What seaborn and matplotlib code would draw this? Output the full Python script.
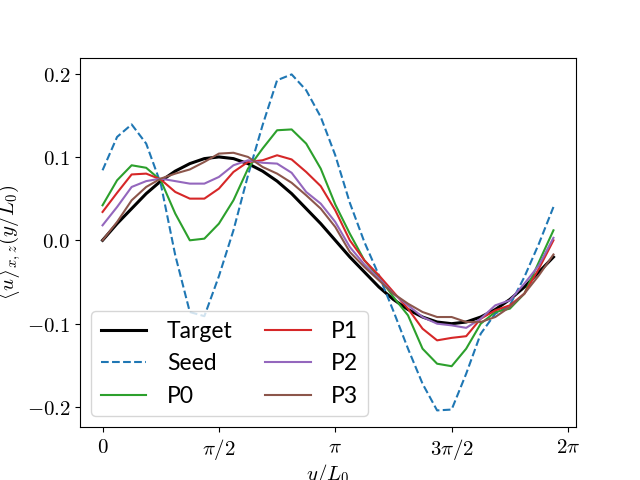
import numpy as np
import pandas as pd
import matplotlib
matplotlib.use('Agg')
import matplotlib.pyplot as plt
import seaborn as sns

plt.rcParams['mathtext.fontset'] = 'cm'
plt.rcParams['font.family'] = ['Lato', 'DejaVu Sans']

# sample points in y/L0 (32 grid cells over one period)
y_grid = np.linspace(0, 2 * np.pi, 32, endpoint=False)

target = [0.000, 0.020, 0.038, 0.056, 0.071, 0.083, 0.092, 0.098, 0.100, 0.098, 0.092, 0.083,
          0.071, 0.056, 0.038, 0.020, 0.000, -0.020, -0.038, -0.056, -0.071, -0.083, -0.092,
          -0.098, -0.100, -0.098, -0.092, -0.083, -0.071, -0.056, -0.038, -0.020]
seed = [0.084, 0.124, 0.139, 0.116, 0.068, -0.018, -0.086, -0.091, -0.043, 0.012, 0.078, 0.138,
        0.192, 0.199, 0.180, 0.148, 0.102, 0.045, -0.002, -0.042, -0.085, -0.130, -0.172,
        -0.204, -0.203, -0.160, -0.112, -0.088, -0.078, -0.044, -0.004, 0.040]
p0 = [0.042, 0.072, 0.090, 0.087, 0.072, 0.032, 0.000, 0.002, 0.020, 0.048, 0.086, 0.110,
      0.132, 0.133, 0.116, 0.086, 0.043, 0.008, -0.024, -0.044, -0.068, -0.090, -0.130,
      -0.148, -0.151, -0.130, -0.100, -0.086, -0.082, -0.064, -0.026, 0.012]
p1 = [0.034, 0.057, 0.079, 0.080, 0.073, 0.058, 0.050, 0.050, 0.062, 0.082, 0.094, 0.096,
      0.102, 0.097, 0.082, 0.065, 0.036, 0.000, -0.024, -0.042, -0.062, -0.082, -0.106,
      -0.120, -0.117, -0.115, -0.094, -0.084, -0.078, -0.064, -0.034, 0.000]
p2 = [0.018, 0.040, 0.064, 0.071, 0.074, 0.071, 0.068, 0.068, 0.076, 0.090, 0.096, 0.093,
      0.092, 0.081, 0.058, 0.044, 0.022, -0.008, -0.029, -0.046, -0.064, -0.078, -0.092,
      -0.100, -0.102, -0.105, -0.094, -0.078, -0.072, -0.052, -0.030, 0.003]
p3 = [0.000, 0.022, 0.048, 0.064, 0.074, 0.080, 0.085, 0.094, 0.104, 0.105, 0.100, 0.088,
      0.080, 0.069, 0.054, 0.038, 0.016, -0.014, -0.032, -0.048, -0.064, -0.076, -0.086,
      -0.092, -0.092, -0.098, -0.098, -0.092, -0.080, -0.064, -0.042, -0.017]

xtick_vals = [0, np.pi / 2, np.pi, 3 * np.pi / 2, 2 * np.pi]
xtick_labels = [r'$0$', r'$\pi/2$', r'$\pi$', r'$3\pi/2$', r'$2\pi$']
ytick_vals = [-0.2, -0.1, 0.0, 0.1, 0.2]

fig, ax = plt.subplots(figsize=(6.4, 4.8), dpi=100)

sns.lineplot(x=y_grid, y=target, ax=ax, color='black', lw=2.2, label='Target')
sns.lineplot(x=y_grid, y=seed, ax=ax, color='C0', lw=1.5, ls='--', label='Seed')
sns.lineplot(x=y_grid, y=p0, ax=ax, color='C2', lw=1.5, label='P0')
sns.lineplot(x=y_grid, y=p1, ax=ax, color='C3', lw=1.5, label='P1')
sns.lineplot(x=y_grid, y=p2, ax=ax, color='C4', lw=1.5, label='P2')
sns.lineplot(x=y_grid, y=p3, ax=ax, color='C5', lw=1.5, label='P3')

ax.set_xticks(xtick_vals)
ax.set_xticklabels(xtick_labels, fontsize=15)
ax.set_yticks(ytick_vals)
ax.set_yticklabels([f'${v:.1f}$' for v in ytick_vals], fontsize=15)
ax.set_xlabel(r'$y/L_0$', fontsize=15, labelpad=0)
ax.set_ylabel(r'$\langle u\rangle_{x,z}(y/L_0)$', fontsize=15, labelpad=2)
ax.legend(ncol=2, loc='lower left', fontsize=16.5, columnspacing=1.4, handletextpad=0.9)

plt.savefig('out.png', dpi=100)
